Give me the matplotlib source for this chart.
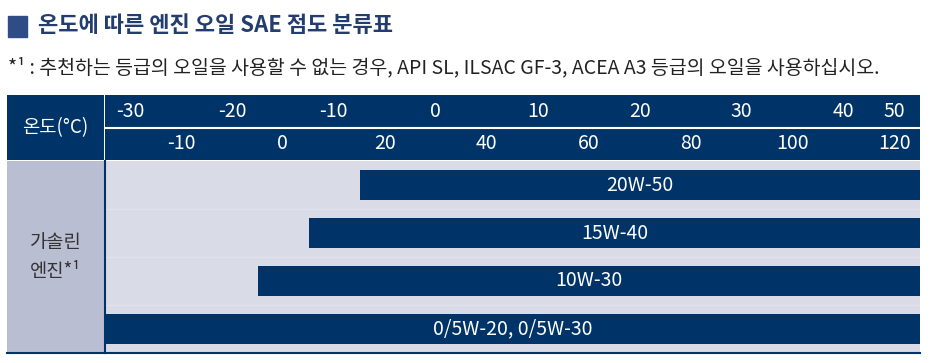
import matplotlib
matplotlib.use("Agg")
import matplotlib.pyplot as plt
from matplotlib.patches import Rectangle

plt.rcParams['font.family'] = ['Noto Sans CJK KR', 'DejaVu Sans']

title = "온도에 따른 엔진 오일 SAE 점도 분류표"
note = "*¹ : 추천하는 등급의 오일을 사용할 수 없는 경우, API SL, ILSAC GF-3, ACEA A3 등급의 오일을 사용하십시오."
row_label = "가솔린\n엔진*¹"
scale_label = "온도(°C)"

celsius = [-30, -20, -10, 0, 10, 20, 30, 40, 50]
celsius_slot = [-30, -20, -10, 0, 10, 20, 30, 40, 45]
fahrenheit = [-10, 0, 20, 40, 60, 80, 100, 120]
fahrenheit_slot = [-25, -15, -5, 5, 15, 25, 35, 45]

grades = ["20W-50", "15W-40", "10W-30", "0/5W-20, 0/5W-30"]
grade_from = [-7.5, -12.5, -17.5, -32.5]
grade_to = [47.5, 47.5, 47.5, 47.5]

NAVY = '#003468'
W, H = 930, 363
XLIM = (-32.5, 47.5)


def box(x0, y0, x1, y1):
    # pixel box (top-left origin) -> figure rect
    return [x0 / W, 1 - y1 / H, (x1 - x0) / W, (y1 - y0) / H]


def bare(ax, color):
    ax.set_facecolor(color)
    ax.set_xticks([])
    ax.set_yticks([])
    for s in ax.spines.values():
        s.set_visible(False)


fig = plt.figure(figsize=(W / 100, H / 100), dpi=100)

# title + footnote
fig.patches.append(Rectangle((8 / W, 1 - 37 / H), 19 / W, 21 / H,
                             transform=fig.transFigure, color='#2f4c86'))
fig.text(38 / W, 1 - 26 / H, title, fontsize=15.9, fontweight='bold',
         color='#233d6e', va='center', ha='left')
fig.text(8 / W, 1 - 68 / H, note, fontsize=14, color='#222222',
         va='center', ha='left')

# header: label cell
ax_hl = fig.add_axes(box(7, 95, 103.5, 160))
bare(ax_hl, NAVY)
ax_hl.text(0.5, 0.5, scale_label, transform=ax_hl.transAxes, color='white',
           fontsize=13.5, ha='center', va='center')

# header: temperature scales
ax_h = fig.add_axes(box(104.5, 95, 920, 160))
bare(ax_h, NAVY)
ax_h.set_xlim(*XLIM)
ax_h.set_ylim(2, 0)
ax_h.axhline(1, color='white', lw=1.5)
for c, p in zip(celsius, celsius_slot):
    ax_h.text(p, 0.5, str(c), color='white', fontsize=14, ha='center', va='center')
for f, p in zip(fahrenheit, fahrenheit_slot):
    ax_h.text(p, 1.5, str(f), color='white', fontsize=14, ha='center', va='center')

# body: label column
ax_bl = fig.add_axes(box(7, 161, 104, 353))
bare(ax_bl, '#b9bed3')
ax_bl.spines['bottom'].set_visible(True)
ax_bl.spines['bottom'].set_color(NAVY)
ax_bl.spines['bottom'].set_linewidth(1.5)
ax_bl.text(0.5, 0.5, row_label, transform=ax_bl.transAxes, color='#333333',
           fontsize=13.5, ha='center', va='center', linespacing=1.45)

# body: grade bars
ax = fig.add_axes(box(105, 161, 920, 353))
bare(ax, '#d9dbe7')
for side in ['left', 'bottom']:
    ax.spines[side].set_visible(True)
    ax.spines[side].set_color(NAVY)
    ax.spines[side].set_linewidth(1.5)
rows = range(len(grades))
widths = [b - a for a, b in zip(grade_from, grade_to)]
ax.barh(rows, widths, left=grade_from, height=0.625, color=NAVY)
for r in [0.5, 1.5, 2.5]:
    ax.axhline(r, color='white', lw=1, alpha=0.2)
for r, g, a, b in zip(rows, grades, grade_from, grade_to):
    ax.text((a + b) / 2, r, g, color='white', fontsize=14, ha='center', va='center')
ax.set_xlim(*XLIM)
ax.set_ylim(len(grades) - 0.5, -0.5)

fig.savefig('out.png', dpi=100)
